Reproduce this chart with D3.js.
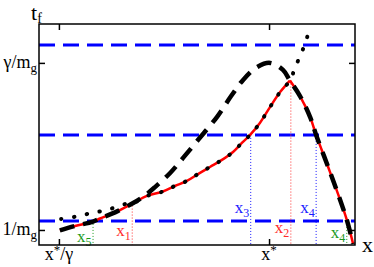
<!DOCTYPE html>
<html><head><meta charset="utf-8">
<script src="https://cdn.jsdelivr.net/npm/d3@7"></script>
<style>body{margin:0;background:#fff}svg{display:block}text{font-family:"Liberation Serif","DejaVu Serif",serif}</style>
</head><body><script>
// ---- data (arbitrary units 0..10) ----
const redRise = [[0.66,0.66],[1.14,0.86],[1.71,1.06],[1.93,1.20],[2.47,1.52],[2.98,1.90],[3.42,2.22],[3.92,2.42],[4.30,2.67],[4.68,2.90],[5.03,3.21],[5.41,3.53],[5.79,3.85],[6.14,4.21],[6.42,4.62],[6.68,4.98],[6.99,5.52],[7.31,6.24],[7.63,6.92],[7.94,7.44]];
const redFall = [[7.94,7.44],[8.26,6.74],[8.58,5.79],[8.77,4.98],[9.15,3.53],[9.53,2.04],[9.75,1.09],[9.94,0.05]];
const dashedHump = [[3.35,2.24],[3.67,2.62],[4.15,3.26],[4.56,3.94],[5.03,4.75],[5.63,5.79],[6.08,6.74],[6.46,7.47],[6.90,8.05],[7.31,8.24],[7.72,7.92]];
const dottedStart = [[0.70,1.18],[1.11,1.27],[1.52,1.40],[1.93,1.52],[2.34,1.67],[2.75,1.86]];
const dottedTail = [[8.10,8.01],[8.26,8.55],[8.42,9.10],[8.54,9.68]];
const levels = [9.05, 4.98, 1.09];
const roots = [
  {name:"x", sub:"5", x:1.71, top:1.09, kind:0},
  {name:"x", sub:"1", x:2.95, top:1.92, kind:1},
  {name:"x", sub:"3", x:6.70, top:4.98, kind:2},
  {name:"x", sub:"2", x:7.97, top:7.44, kind:1},
  {name:"x", sub:"4", x:8.77, top:4.98, kind:2},
  {name:"x", sub:"4", x:9.74, top:1.09, kind:0}
];
const xTicks = [0.63, 7.28];
const xTickLabels = [{base:"x", sup:"*", tail:"/γ"}, {base:"x", sup:"*", tail:""}];
const yTicks = [0.68, 8.24];
const yTickLabels = [{base:"1/m", sub:"g"}, {base:"γ/m", sub:"g"}];
const xTitle = "x";
const yTitle = {base:"t", sub:"f"};

// ---- layout / style ----
const W = 374, H = 267;
const L = 39, R = 355, T = 24, B = 245;
const kindColor = ["#1a9a1a", "#ff2a2a", "#1a1aff"];
const labelBaseline = [242, 236, 213, 233, 213, 238];

const x = d3.scaleLinear().domain([0,10]).range([L,R]);
const y = d3.scaleLinear().domain([0,10]).range([B,T]);

const svg = d3.select("body").append("svg").attr("width",W).attr("height",H);

// blue levels
svg.append("g").selectAll("line").data(levels).join("line")
  .attr("x1",L).attr("x2",R).attr("y1",d=>y(d)).attr("y2",d=>y(d))
  .attr("stroke","#0000ff").attr("stroke-width",3).attr("stroke-dasharray","16,8");

// vertical dotted root lines
svg.append("g").selectAll("line").data(roots).join("line")
  .attr("x1",d=>x(d.x)).attr("x2",d=>x(d.x)).attr("y1",d=>y(d.top)).attr("y2",B)
  .attr("stroke",d=>kindColor[d.kind]).attr("stroke-width",1).attr("stroke-dasharray","1,2");

// root labels
const lab = svg.append("g").selectAll("text").data(roots).join("text")
  .attr("x",d=>x(d.x)-1.5).attr("y",(d,i)=>labelBaseline[i])
  .attr("text-anchor","end").attr("fill",d=>kindColor[d.kind]).attr("font-size",17);
lab.append("tspan").text(d=>d.name);
lab.append("tspan").attr("font-size",12).attr("dy",4).text(d=>d.sub);

const line = d3.line().x(d=>x(d[0])).y(d=>y(d[1])).curve(d3.curveCatmullRom.alpha(0.5));

// red curve
svg.append("path").attr("d",line(redRise)).attr("fill","none").attr("stroke","#ff0000").attr("stroke-width",2.5);
svg.append("path").attr("d",line(redFall)).attr("fill","none").attr("stroke","#ff0000").attr("stroke-width",2.5);

// dashed black curve
const dashed = redRise.filter(d=>d[0]<=2.98).concat(dashedHump, redFall);
svg.append("path").attr("d",line(dashed)).attr("fill","none").attr("stroke","#000")
  .attr("stroke-width",4.5).attr("stroke-dasharray","15,9");

// dotted black curve
const dotted = dottedStart.concat(redRise.filter(d=>d[0]>=2.98), dottedTail);
svg.append("path").attr("d",line(dotted)).attr("fill","none").attr("stroke","#000")
  .attr("stroke-width",4).attr("stroke-linecap","round").attr("stroke-dasharray","0.5,12.5");

// frame & ticks
const ax = (g,a)=>g.call(a).call(s=>s.select(".domain").remove()).call(s=>s.selectAll("text").remove()).call(s=>s.selectAll("line").attr("stroke-width",1.5));
svg.append("g").attr("transform",`translate(0,${B})`).call(g=>ax(g,d3.axisBottom(x).tickValues(xTicks).tickSizeInner(-6).tickSizeOuter(0)));
svg.append("g").attr("transform",`translate(0,${T})`).call(g=>ax(g,d3.axisTop(x).tickValues(xTicks).tickSizeInner(-6).tickSizeOuter(0)));
svg.append("g").attr("transform",`translate(${L},0)`).call(g=>ax(g,d3.axisLeft(y).tickValues(yTicks).tickSizeInner(-6).tickSizeOuter(0)));
svg.append("g").attr("transform",`translate(${R},0)`).call(g=>ax(g,d3.axisRight(y).tickValues(yTicks).tickSizeInner(-6).tickSizeOuter(0)));
svg.append("rect").attr("x",L).attr("y",T).attr("width",R-L).attr("height",B-T)
  .attr("fill","none").attr("stroke","#000").attr("stroke-width",1.5);

// tick labels
const xl = svg.append("g").selectAll("text").data(xTicks).join("text")
  .attr("x",d=>x(d)).attr("y",260).attr("text-anchor","middle").attr("font-size",18);
xl.append("tspan").text((d,i)=>xTickLabels[i].base);
xl.append("tspan").attr("font-size",13).attr("dy",-6).text((d,i)=>xTickLabels[i].sup);
xl.append("tspan").attr("dy",6).text((d,i)=>xTickLabels[i].tail);

const yl = svg.append("g").selectAll("text").data(yTicks).join("text")
  .attr("x",37).attr("y",d=>y(d)+5).attr("text-anchor","end").attr("font-size",18);
yl.append("tspan").text((d,i)=>yTickLabels[i].base);
yl.append("tspan").attr("font-size",13).attr("dy",4).text((d,i)=>yTickLabels[i].sub);

// axis titles
svg.append("text").attr("x",362).attr("y",252).attr("font-size",22).text(xTitle);
const yt = svg.append("text").attr("x",31).attr("y",20).attr("font-size",22);
yt.append("tspan").text(yTitle.base);
yt.append("tspan").attr("font-size",14).attr("dy",3).text(yTitle.sub);
</script></body></html>
